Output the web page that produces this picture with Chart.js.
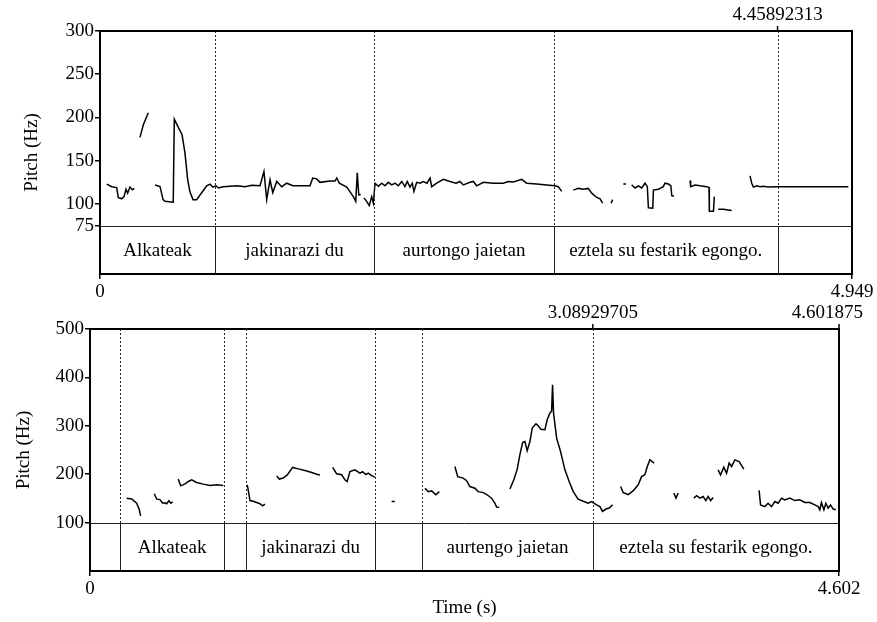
<!DOCTYPE html>
<html>
<head>
<meta charset="utf-8">
<script src="https://cdn.jsdelivr.net/npm/chart.js@4.4.1/dist/chart.umd.min.js"></script>
<style>
  html, body { margin: 0; padding: 0; background: #fff; }
  #wrap { position: relative; width: 877px; height: 622px; overflow: hidden; }
  #topChart { position: absolute; left: 0; top: 0; }
  #bottomChart { position: absolute; left: 0; top: 300px; }
</style>
</head>
<body>
<div id="wrap">
  <canvas id="topChart" width="877" height="300"></canvas>
  <canvas id="bottomChart" width="877" height="322"></canvas>
</div>
<script>
// ===============================
// DATA - upper panel
// ===============================
const topDuration = 4.949;
const topYTicks = [75, 100, 150, 200, 250, 300];
const topBounds = [0.757, 1.803, 2.988, 4.45892313];
const topWords = ["Alkateak", "jakinarazi du", "aurtongo jaietan", "eztela su festarik egongo.", ""];

const topTime = [
  0.044, 0.077, 0.110, 0.120, 0.143, 0.158, 0.171, 0.182, 0.197, 0.213, 0.226, 0.24,
  0.263, 0.285, 0.318, 0.34,
  0.362, 0.395, 0.415, 0.428, 0.482, 0.489, 0.513, 0.540, 0.559, 0.577, 0.592, 0.612, 0.636, 0.669,
  0.702, 0.724, 0.742, 0.763, 0.779, 0.811, 0.856, 0.902, 0.954, 1.000, 1.053, 1.079, 1.097, 1.119,
  1.137, 1.163, 1.196, 1.229, 1.270, 1.336, 1.382, 1.400, 1.426, 1.448, 1.514, 1.547, 1.558, 1.575,
  1.624, 1.667, 1.683, 1.693, 1.703, 1.716, 1.726,
  1.737, 1.755, 1.772, 1.788, 1.799, 1.810, 1.832, 1.854, 1.876, 1.897, 1.920, 1.942, 1.963, 1.986,
  2.007, 2.022, 2.040, 2.055, 2.066, 2.084, 2.106, 2.128, 2.152, 2.172, 2.183, 2.216, 2.259, 2.303,
  2.343, 2.369, 2.391, 2.435, 2.457, 2.479, 2.523, 2.588, 2.654, 2.687, 2.720, 2.775, 2.808, 2.874,
  2.940, 2.994, 3.016, 3.039, 3.08,
  3.115, 3.148, 3.181, 3.213, 3.236, 3.269, 3.291, 3.308, 3.34,
  3.363, 3.374, 3.41,
  3.444, 3.462, 3.48,
  3.499, 3.521, 3.543, 3.565, 3.587, 3.602, 3.609, 3.638, 3.642, 3.675, 3.707, 3.718, 3.741, 3.757,
  3.763, 3.777, 3.83,
  3.883, 3.887, 3.916, 3.949, 3.993, 4.008, 4.010, 4.037, 4.043, 4.055,
  4.069, 4.102, 4.157, 4.22,
  4.278, 4.289, 4.300, 4.323, 4.344, 4.365, 4.398, 4.453, 4.541, 4.673, 4.804, 4.925
];
const topPitch = [
  123, 120, 119, 107.5, 106, 108.5, 117, 112.5, 119.5, 116.5, 118, null,
  177, 191.5, 205.5, null,
  122, 120, 105, 103, 102, 198, 189.5, 180, 159, 128, 114, 105, 105, 113,
  121, 123, 119.5, 121, 118.5, 120, 120.5, 121, 120, 121.5, 121, 137.5, 105, 128,
  113, 126, 120, 124, 121, 121, 121, 130, 129, 125, 126.5, 126.5, 130, 124,
  119.5, 108.5, 103, 136, 110.5, 111, null,
  107, 103, 98, 108.5, 101, 124, 120.5, 124, 121, 125, 122, 124, 121, 126,
  120, 126, 119.5, 124, 114.5, 125, 124, 126, 124, 130, 120, 124, 128.5, 126,
  124, 126, 122, 125, 126, 121, 125, 124, 124, 126, 125.5, 128.5, 124, 123,
  122, 121, 120, 114.5, null,
  116, 118, 117, 118, 112.5, 107.5, 106, 101, null,
  101, 105, null,
  123, 123, null,
  122, 118.5, 121, 118.5, 124, 120, 95.5, 95, 116, 117, 120, 124, 123, 121,
  109.5, 109, null,
  127, 120, 122, 121, 120, 119, 91.5, 91.5, 108.5, null,
  94, 94, 92.5, null,
  132.5, 124, 119.5, 121, 120, 120.5, 119.5, 120, 120, 120, 120, 120
];

// ===============================
// DATA - lower panel
// ===============================
const bottomDuration = 4.601875;
const bottomYTicks = [100, 200, 300, 400, 500];
const bottomBounds = [0.184, 0.825, 0.960, 1.751, 2.041, 3.08929705];
const bottomWords = ["", "Alkateak", "", "jakinarazi du", "", "aurtengo jaietan", "eztela su festarik egongo."];

const bottomTime = [
  0.225, 0.256, 0.287, 0.303, 0.311, 0.35,
  0.395, 0.410, 0.430, 0.447, 0.461, 0.471, 0.485, 0.496, 0.508, 0.525,
  0.542, 0.557, 0.584, 0.604, 0.625, 0.655, 0.696, 0.737, 0.778, 0.819, 0.9,
  0.966, 0.972, 0.983, 1.003, 1.024, 1.044, 1.061, 1.075, 1.11,
  1.147, 1.163, 1.187, 1.212, 1.245, 1.280, 1.321, 1.362, 1.393, 1.413, 1.45,
  1.491, 1.515, 1.546, 1.566, 1.580, 1.597, 1.628, 1.658, 1.675, 1.695, 1.709, 1.730, 1.751, 1.80,
  1.853, 1.873, 1.95,
  2.058, 2.078, 2.099, 2.125, 2.146, 2.2,
  2.242, 2.259, 2.293, 2.314, 2.334, 2.365, 2.385, 2.416, 2.440, 2.467, 2.488, 2.498, 2.514, 2.55,
  2.580, 2.604, 2.625, 2.641, 2.658, 2.672, 2.686, 2.703, 2.717, 2.740, 2.754, 2.770, 2.795, 2.809,
  2.826, 2.836, 2.842, 2.848, 2.867, 2.891, 2.918, 2.944, 2.969, 2.999, 3.030, 3.061, 3.082, 3.112,
  3.133, 3.149, 3.170, 3.190, 3.211, 3.23,
  3.260, 3.276, 3.307, 3.338, 3.368, 3.389, 3.409, 3.424, 3.440, 3.454, 3.466, 3.53,
  3.587, 3.600, 3.614, 3.66,
  3.710, 3.727, 3.747, 3.767, 3.784, 3.798, 3.813, 3.829, 3.845,
  3.859, 3.874, 3.894, 3.911, 3.927, 3.942, 3.962, 3.988, 4.017, 4.06,
  4.111, 4.120, 4.146, 4.166, 4.187, 4.208, 4.228, 4.249, 4.269, 4.300, 4.330, 4.361, 4.392, 4.423,
  4.453, 4.474, 4.484, 4.494, 4.509, 4.521, 4.535, 4.550, 4.566, 4.582
];
const bottomPitch = [
  150.5, 149, 140, 126.5, 114, null,
  159.5, 148.5, 147.5, 140, 141, 139, 145, 140, 143, null,
  190, 176, 180, 185, 188.5, 183, 179.5, 176.5, 178, 176.5, null,
  178, 167.5, 145.5, 144, 141.5, 139, 134.5, 138, null,
  196.5, 190, 192, 198.5, 214, 211, 207.5, 203.5, 200, 198.5, null,
  214, 201, 199, 188.5, 185, 205.5, 209, 202, 205, 199, 202, 197, 194, null,
  143.5, 143.5, null,
  171, 164, 165.5, 157.5, 164, null,
  216, 195, 192, 186.5, 174.5, 171, 164, 162, 157.5, 150.5, 140, 132, 131.5, null,
  169.5, 188.5, 210.5, 240, 265.5, 267.5, 248.5, 267.5, 295.5, 304, 300, 293, 292, 312.5,
  326.5, 330, 385, 326, 274.5, 247, 209, 185, 164, 148.5, 144, 140, 143.5, 136.5,
  133, 123, 128, 130, 137, null,
  174.5, 162, 158, 166, 178, 195, 199, 216, 230, 226, 223, null,
  161, 150.5, 161, null,
  150.5, 155.5, 150.5, 154, 145.5, 154, 145.5, 152, null,
  209, 198.5, 214.5, 202, 223, 216, 229.5, 226, 210.5, null,
  166.5, 136.5, 133, 140, 133, 143.5, 140, 150.5, 147, 150.5, 145.5, 147, 141.5, 141.5,
  136.5, 133, 126.5, 141.5, 126.5, 140, 130, 136.5, 128, 126.5
];

// ===============================
// COMMON STYLE
// ===============================
Chart.defaults.font.family = "'Liberation Serif', 'Times New Roman', serif";
Chart.defaults.font.size = 19;
Chart.defaults.color = "#000";
const font = { family: "'Liberation Serif', serif", size: 19 };

// text tiers, boundaries, frame and cursor marks
const tierPlugin = {
  id: "tiers",
  afterDatasetsDraw(chart, args, opts) {
    const { ctx, chartArea: a, scales: { x, y } } = chart;
    const floorY = Math.round(y.getPixelForValue(opts.floor)) + 0.5;
    ctx.save();
    ctx.strokeStyle = "#222";
    ctx.lineWidth = 1;

    ctx.beginPath();
    ctx.moveTo(a.left, floorY);
    ctx.lineTo(a.right, floorY);
    ctx.stroke();

    opts.bounds.forEach(t => {
      const px = Math.round(x.getPixelForValue(t)) + 0.5;
      ctx.setLineDash([2, 2]);
      ctx.beginPath();
      ctx.moveTo(px, a.top);
      ctx.lineTo(px, floorY);
      ctx.stroke();
      ctx.setLineDash([]);
      ctx.beginPath();
      ctx.moveTo(px, floorY);
      ctx.lineTo(px, a.bottom);
      ctx.stroke();
    });

    const edges = [x.min, ...opts.bounds, x.max];
    ctx.font = "19px 'Liberation Serif'";
    ctx.fillStyle = "#000";
    ctx.textAlign = "center";
    ctx.textBaseline = "middle";
    opts.labels.forEach((txt, i) => {
      if (!txt) return;
      const cx = (x.getPixelForValue(edges[i]) + x.getPixelForValue(edges[i + 1])) / 2;
      ctx.fillText(txt, cx, (floorY + a.bottom) / 2 + 1);
    });

    ctx.strokeStyle = "#000";
    ctx.lineWidth = 2;
    ctx.strokeRect(a.left, a.top, a.right - a.left, a.bottom - a.top);

    ctx.textBaseline = "alphabetic";
    opts.marks.forEach(m => {
      const px = x.getPixelForValue(m.t);
      ctx.lineWidth = 1.5;
      ctx.beginPath();
      ctx.moveTo(px, a.top - 5);
      ctx.lineTo(px, a.top);
      ctx.stroke();
      ctx.textAlign = m.align || "center";
      ctx.fillText(m.text, px + (m.dx || 0), a.top - 11);
    });
    ctx.restore();
  }
};

function makePanel(canvas, cfg) {
  return new Chart(canvas, {
    type: "line",
    data: {
      datasets: [{
        data: cfg.time.map((t, i) => ({ x: t, y: cfg.pitch[i] })),
        borderColor: "#000",
        borderWidth: 1.5,
        pointRadius: 0,
        spanGaps: false,
        tension: 0
      }]
    },
    options: {
      responsive: false,
      animation: false,
      events: [],
      layout: { padding: cfg.padding },
      plugins: {
        legend: { display: false },
        tooltip: { enabled: false },
        tiers: { floor: cfg.floor, bounds: cfg.bounds, labels: cfg.labels, marks: cfg.marks }
      },
      scales: {
        x: {
          type: "linear",
          min: 0,
          max: cfg.duration,
          afterFit: s => { s.height = cfg.xHeight; },
          afterBuildTicks: s => { s.ticks = [{ value: 0 }, { value: cfg.duration }]; },
          grid: { drawOnChartArea: false, drawTicks: true, tickLength: 5, color: "#000", lineWidth: 1.5 },
          border: { display: false },
          ticks: {
            font, color: "#000", padding: 2, maxRotation: 0,
            callback: v => v === 0 ? "0" : cfg.endLabel
          },
          title: cfg.xTitle
        },
        y: {
          min: cfg.yMin,
          max: cfg.yMax,
          afterFit: s => { s.width = cfg.yWidth; },
          afterBuildTicks: s => { s.ticks = cfg.yTicks.map(v => ({ value: v })); },
          grid: { drawOnChartArea: false, drawTicks: true, tickLength: 5, color: "#000", lineWidth: 1.5 },
          border: { display: false },
          ticks: { font, color: "#000", padding: 1 },
          title: { display: true, text: "Pitch (Hz)", font, color: "#000", padding: { top: cfg.titlePad, bottom: 0 } }
        }
      }
    },
    plugins: [tierPlugin]
  });
}

// ===============================
// UPPER PANEL
// ===============================
makePanel(document.getElementById("topChart"), {
  time: topTime, pitch: topPitch,
  duration: topDuration, endLabel: "4.949",
  yMin: 19, yMax: 300, yTicks: topYTicks, floor: 75,
  bounds: topBounds, labels: topWords,
  marks: [{ t: 4.45892313, text: "4.45892313" }],
  padding: { top: 31, right: 25, bottom: 0, left: 0 },
  xHeight: 26, yWidth: 100, titlePad: 21,
  xTitle: { display: false }
});

// ===============================
// LOWER PANEL
// ===============================
makePanel(document.getElementById("bottomChart"), {
  time: bottomTime, pitch: bottomPitch,
  duration: bottomDuration, endLabel: "4.602",
  yMin: 0, yMax: 500, yTicks: bottomYTicks, floor: 100,
  bounds: bottomBounds, labels: bottomWords,
  marks: [
    { t: 3.08929705, text: "3.08929705" },
    { t: 4.601875, text: "4.601875", align: "right", dx: 24 }
  ],
  padding: { top: 29, right: 38, bottom: 0, left: 0 },
  xHeight: 51, yWidth: 90, titlePad: 13,
  xTitle: { display: true, text: "Time (s)", font, color: "#000", padding: { top: 0, bottom: 3 } }
});
</script>
</body>
</html>
